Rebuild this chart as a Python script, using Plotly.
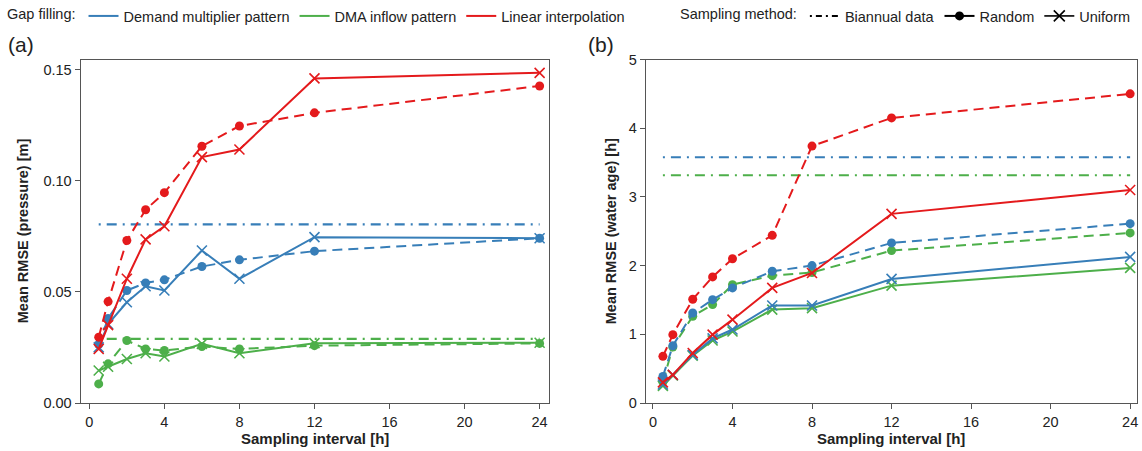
import plotly.graph_objects as go

# ---------------- data ----------------
intervals = [0.5, 1, 2, 3, 4, 6, 8, 12, 24]

methods = ["Demand multiplier pattern", "DMA inflow pattern", "Linear interpolation"]
colors = ["#377eb8", "#4daf4a", "#e41a1c"]

# Panel (a): Mean RMSE (pressure) [m]
p_random_demand = [0.0263, 0.0380, 0.0506, 0.0540, 0.0554, 0.0614, 0.0644, 0.0683, 0.0741]
p_random_dma = [0.0086, 0.0176, 0.0281, 0.0243, 0.0236, 0.0254, 0.0243, 0.0258, 0.0268]
p_random_linear = [0.0296, 0.0456, 0.0731, 0.0869, 0.0946, 0.1155, 0.1246, 0.1305, 0.1426]
p_uniform_demand = [0.0250, 0.0355, 0.0453, 0.0525, 0.0506, 0.0686, 0.0559, 0.0746, 0.0741]
p_uniform_dma = [0.0146, 0.0163, 0.0198, 0.0224, 0.0209, 0.0266, 0.0224, 0.0269, 0.0271]
p_uniform_linear = [0.0243, 0.0350, 0.0559, 0.0736, 0.0795, 0.1106, 0.1140, 0.1460, 0.1485]
p_biannual_demand = 0.0803
p_biannual_dma = 0.0288

# Panel (b): Mean RMSE (water age) [h]
w_random_demand = [0.387, 0.834, 1.31, 1.504, 1.675, 1.917, 2.00, 2.33, 2.61]
w_random_dma = [0.306, 0.815, 1.262, 1.432, 1.723, 1.854, 1.90, 2.218, 2.476]
w_random_linear = [0.679, 0.995, 1.51, 1.835, 2.10, 2.44, 3.74, 4.15, 4.50]
w_uniform_demand = [0.27, 0.41, 0.70, 0.94, 1.07, 1.42, 1.42, 1.806, 2.126]
w_uniform_dma = [0.25, 0.40, 0.69, 0.91, 1.04, 1.36, 1.38, 1.708, 1.966]
w_uniform_linear = [0.30, 0.41, 0.728, 0.995, 1.213, 1.675, 1.893, 2.753, 3.10]
w_biannual_demand = 3.577
w_biannual_dma = 3.315

x_ticks = [0, 4, 8, 12, 16, 20, 24]
y_ticks_a = [0.00, 0.05, 0.10, 0.15]
y_ticks_b = [0, 1, 2, 3, 4, 5]

# ---------------- figure ----------------
FONT = "Liberation Sans, Arial, sans-serif"
DASH = "10px,6px"
DASHDOT = "2px,6px,10px,6px"

fig = go.Figure()

panels = [
    ("x", "y",
     [p_biannual_demand, p_biannual_dma, None],
     [p_random_demand, p_random_dma, p_random_linear],
     [p_uniform_demand, p_uniform_dma, p_uniform_linear]),
    ("x2", "y2",
     [w_biannual_demand, w_biannual_dma, None],
     [w_random_demand, w_random_dma, w_random_linear],
     [w_uniform_demand, w_uniform_dma, w_uniform_linear]),
]

for xa, ya, bian, rand, unif in panels:
    for val, col in zip(bian, colors):
        if val is None:
            continue
        fig.add_trace(go.Scatter(
            x=[intervals[0], intervals[-1]], y=[val, val], xaxis=xa, yaxis=ya,
            mode="lines", line=dict(color=col, width=2.2, dash=DASHDOT),
            showlegend=False, hoverinfo="skip"))
    for i in [1, 0, 2]:
        fig.add_trace(go.Scatter(
            x=intervals, y=rand[i], xaxis=xa, yaxis=ya,
            mode="lines+markers",
            line=dict(color=colors[i], width=2, dash=DASH),
            marker=dict(symbol="circle", size=9, color=colors[i]),
            showlegend=False))
        fig.add_trace(go.Scatter(
            x=intervals, y=unif[i], xaxis=xa, yaxis=ya,
            mode="lines+markers",
            line=dict(color=colors[i], width=2),
            marker=dict(symbol="x-thin", size=10,
                        line=dict(color=colors[i], width=1.6)),
            showlegend=False))

# legend entries: gap filling
for name, col in zip(methods, colors):
    fig.add_trace(go.Scatter(x=[None], y=[None], mode="lines", name=name,
                             line=dict(color=col, width=2), legend="legend"))
# legend entries: sampling method
fig.add_trace(go.Scatter(x=[None], y=[None], mode="lines", name="Biannual data",
                         line=dict(color="black", width=2, dash="2px,4px,6px,4px"),
                         legend="legend2"))
fig.add_trace(go.Scatter(x=[None], y=[None], mode="lines+markers", name="Random",
                         line=dict(color="black", width=2),
                         marker=dict(symbol="circle", size=9, color="black"),
                         legend="legend2"))
fig.add_trace(go.Scatter(x=[None], y=[None], mode="lines+markers", name="Uniform",
                         line=dict(color="black", width=1.6),
                         marker=dict(symbol="x-thin", size=11,
                                     line=dict(color="black", width=1.6)),
                         legend="legend2"))

W, H = 1142, 451
ydom = [1 - 403 / H, 1 - 59.5 / H]

axis_common = dict(
    showgrid=False, zeroline=False, showline=True, mirror=True, automargin=False,
    linecolor="#555555", linewidth=1.3, ticks="outside", ticklen=5,
    tickcolor="#555555", tickwidth=1.3,
    tickfont=dict(family=FONT, size=14.5, color="#222222"),
)

fig.update_layout(
    width=W, height=H,
    margin=dict(l=0, r=0, t=0, b=0, autoexpand=False),
    paper_bgcolor="white", plot_bgcolor="white",
    font=dict(family=FONT, color="#222222"),
    xaxis=dict(domain=[80.7 / W, 549 / W], range=[-0.46, 24.5],
               tickvals=x_ticks, anchor="y", **axis_common),
    yaxis=dict(domain=ydom, range=[0, 0.1545], tickvals=y_ticks_a,
               tickformat=".2f", anchor="x", **axis_common),
    xaxis2=dict(domain=[646 / W, 1136.7 / W], range=[-0.35, 24.33],
                tickvals=x_ticks, anchor="y2", **axis_common),
    yaxis2=dict(domain=ydom, range=[0, 5], tickvals=y_ticks_b,
                anchor="x2", **axis_common),
    legend=dict(orientation="h", x=5 / W, xanchor="left", y=1.0, yanchor="top",
                title=dict(text="Gap filling:", side="left",
                           font=dict(family=FONT, size=14.5, color="#222222")),
                font=dict(family=FONT, size=14.5, color="#222222"),
                bgcolor="rgba(0,0,0,0)"),
    legend2=dict(orientation="h", x=678 / W, xanchor="left", y=1.0, yanchor="top",
                 title=dict(text="Sampling method:", side="left",
                            font=dict(family=FONT, size=14.5, color="#222222")),
                 font=dict(family=FONT, size=14.5, color="#222222"),
                 bgcolor="rgba(0,0,0,0)"),
    showlegend=True,
)

annos = [
    dict(text="(a)", x=6 / W, y=1 - 45 / H, xanchor="left", yanchor="middle",
         font=dict(size=21)),
    dict(text="(b)", x=586 / W, y=1 - 45 / H, xanchor="left", yanchor="middle",
         font=dict(size=21)),
    dict(text="<b>Mean RMSE (pressure) [m]</b>", x=23 / W, y=(ydom[0] + ydom[1]) / 2,
         textangle=-90, xanchor="center", yanchor="middle", font=dict(size=14.5)),
    dict(text="<b>Mean RMSE (water age) [h]</b>", x=611 / W, y=(ydom[0] + ydom[1]) / 2,
         textangle=-90, xanchor="center", yanchor="middle", font=dict(size=14.5)),
    dict(text="<b>Sampling interval [h]</b>", x=(80.7 + 549) / 2 / W, y=1 - 438 / H,
         xanchor="center", yanchor="middle", font=dict(size=15)),
    dict(text="<b>Sampling interval [h]</b>", x=(646 + 1136.7) / 2 / W, y=1 - 438 / H,
         xanchor="center", yanchor="middle", font=dict(size=15)),
]
for a in annos:
    fig.add_annotation(xref="paper", yref="paper", showarrow=False, **a)

fig.write_html("out.html",
               config={"displayModeBar": False},
               post_script="document.body.style.margin='0px';"
                           "document.body.style.overflow='hidden';")
